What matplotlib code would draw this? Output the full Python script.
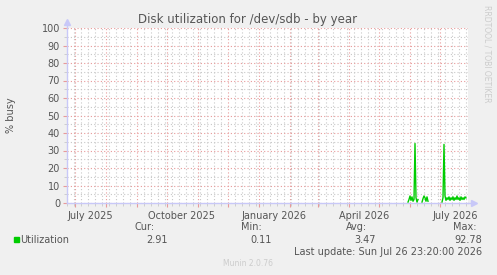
from __future__ import annotations

import datetime as dt

import matplotlib

matplotlib.use("Agg")
import matplotlib.dates as mdates
import matplotlib.pyplot as plt
import numpy as np
from matplotlib.ticker import MultipleLocator, NullFormatter

# Data (daily averages, % busy). Gaps are NaN.
series_start = dt.date(2026, 5, 30)
busy = [
    0.5, 2.0, 4.0, 1.5, 3.5, 1.0, 2.0, 34.0, 3.0, 0.5, 2.0,  # May 30 - Jun 9
    np.nan, np.nan, np.nan,                                    # Jun 10 - 12
    0.5, 2.5, 4.0, 3.0, 1.0, 3.5, 1.0,                         # Jun 13 - 19
    *[np.nan] * 13,                                            # Jun 20 - Jul 2
    0.5, 3.0, 33.5, 4.0, 1.5, 3.0, 2.0, 3.5, 1.5, 3.0, 2.0,    # Jul 3 - 13
    3.5, 1.5, 3.0, 2.0, 4.0, 2.0, 3.0, 1.5, 3.5, 2.0, 3.0,     # Jul 14 - 24
    2.0, 3.5, 2.9,                                             # Jul 25 - 27
]
dates = [series_start + dt.timedelta(days=i) for i in range(len(busy))]

x_start = dt.date(2025, 6, 23)
x_end = dt.date(2026, 7, 29)

label_dates = [dt.date(2025, 7, 16), dt.date(2025, 10, 16), dt.date(2026, 1, 16),
               dt.date(2026, 4, 16), dt.date(2026, 7, 16)]
label_texts = ["July 2025", "October 2025", "January 2026", "April 2026", "July 2026"]

stat_names = ["Cur:", "Min:", "Avg:", "Max:"]
stat_values = ["2.91", "0.11", "3.47", "92.78"]

BG = "#f0f0f0"
TXT = "#555555"
AXIS = "#c8c8f8"
MAJOR = "#e89a9a"
MINOR = "#c8c8c8"
GREEN = "#00cc00"

W, H = 497, 275
fig = plt.figure(figsize=(W / 100, H / 100), dpi=100, facecolor=BG)
px = lambda x: x / W
py = lambda y: 1 - y / H

ax = fig.add_axes([px(67), py(203), px(468) - px(67), py(28) - py(203)])
ax.set_facecolor("white")

ax.plot(dates, busy, color=GREEN, lw=1.0)

ax.set_xlim(x_start, x_end)
ax.set_ylim(0, 100)

ax.xaxis.set_major_locator(mdates.MonthLocator())
ax.xaxis.set_minor_locator(mdates.WeekdayLocator(byweekday=mdates.MO))
ax.xaxis.set_major_formatter(NullFormatter())
ax.yaxis.set_major_locator(MultipleLocator(10))
ax.yaxis.set_minor_locator(MultipleLocator(5))

ax.grid(which="minor", color=MINOR, ls=(0, (1, 2)), lw=0.8)
ax.grid(which="major", color=MAJOR, ls=(0, (1, 2)), lw=0.8)
ax.set_axisbelow(True)

ax.tick_params(which="major", length=3, width=0.8, color=MAJOR, pad=2,
               labelsize=7, labelcolor=TXT)
ax.tick_params(which="minor", length=2, width=0.6, color=MINOR)

for s in ["top", "right"]:
    ax.spines[s].set_visible(False)
for s in ["left", "bottom"]:
    ax.spines[s].set_color(AXIS)
    ax.spines[s].set_linewidth(1.0)

# axis arrows
ax.plot([0], [1.035], marker="^", ms=4, color=AXIS, transform=ax.transAxes, clip_on=False)
ax.plot([0, 0], [1.0, 1.03], color=AXIS, lw=1.0, transform=ax.transAxes, clip_on=False)
ax.plot([1.0, 1.012], [0, 0], color=AXIS, lw=1.0, transform=ax.transAxes, clip_on=False)
ax.plot([1.016], [0], marker=">", ms=4, color=AXIS, transform=ax.transAxes, clip_on=False)

for d, t in zip(label_dates, label_texts):
    ax.text(d, -0.045, t, transform=ax.get_xaxis_transform(), ha="center", va="top",
            fontsize=7, color=TXT)

fig.text(px(248), py(20), "Disk utilization for /dev/sdb - by year", ha="center",
         va="center", fontsize=8.5, color=TXT)
fig.text(px(11), py(115), "% busy", rotation=90, ha="center", va="center",
         fontsize=7, color=TXT)
fig.text(px(487), py(5), "RRDTOOL / TOBI OETIKER", rotation=270, ha="center",
         va="top", fontsize=5.5, color="#cccccc")

# legend block
fig.patches.append(plt.Rectangle((px(14), py(242)), px(5), py(237) - py(242),
                                 transform=fig.transFigure, color=GREEN))
fig.text(px(20), py(240), "Utilization", ha="left", va="center", fontsize=7, color=TXT)
for name, val, x_name, x_val in zip(stat_names, stat_values,
                                    [155, 262, 367, 477], [168, 272, 376, 482]):
    fig.text(px(x_name), py(227), name, ha="right", va="center", fontsize=7, color=TXT)
    fig.text(px(x_val), py(240), val, ha="right", va="center", fontsize=7, color=TXT)
fig.text(px(482), py(252), "Last update: Sun Jul 26 23:20:00 2026", ha="right",
         va="center", fontsize=7, color=TXT)
fig.text(px(248), py(263), "Munin 2.0.76", ha="center", va="center", fontsize=5.5,
         color="#cccccc")

fig.savefig("out.png", dpi=100, facecolor=BG)
